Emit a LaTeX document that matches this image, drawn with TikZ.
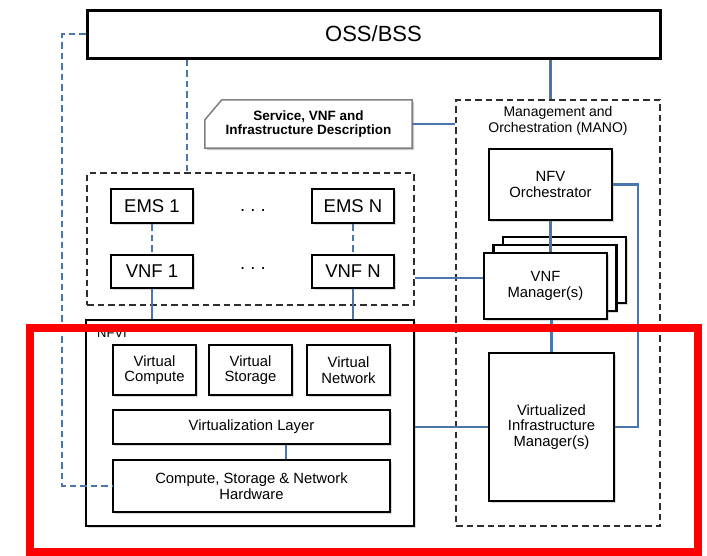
\documentclass[tikz,border=0pt]{standalone}
\usepackage{fontspec}
\setmainfont{Liberation Sans}
\usetikzlibrary{shadows}
\definecolor{linkblue}{HTML}{4A76AC}
\definecolor{framegray}{HTML}{2E2E2E}
\newcommand\dgTitle{\fontsize{22}{24}\selectfont}
\newcommand\dgEms{\fontsize{18.5}{20}\selectfont}
\newcommand\dgBox{\fontsize{14.8}{15.5}\selectfont}
\newcommand\dgSmall{\fontsize{14}{15.5}\selectfont}
\newcommand\dgDesc{\fontsize{13.5}{14.5}\selectfont\bfseries}
\begin{document}
\begin{tikzpicture}[x=1pt,y=-1pt,
  box/.style={draw=black, line width=2.5pt, fill=white, inner sep=0pt, align=center,
    drop shadow={shadow xshift=1.8pt, shadow yshift=-1.8pt, opacity=0.3}},
  grp/.style={draw=framegray, line width=2pt, dash pattern=on 6.5pt off 4pt, inner sep=0pt},
  link/.style={draw=linkblue, line width=2.2pt},
  dlink/.style={link, line width=2.4pt, dash pattern=on 6.5pt off 4pt},
  lbl/.style={inner sep=0pt, align=center}]
\useasboundingbox (0,0) rectangle (707,555);

% top-level operations / business support
\node[box, line width=3pt, minimum width=573, minimum height=48, font=\dgTitle] (oss) at (373.5,34) {OSS/BSS};

% descriptor sheet with a clipped corner
\node[lbl, minimum width=207, minimum height=48] (desc) at (308.5,124) {};
\fill[black, opacity=0.22] ([shift={(2,2)}]desc.south west) -- ([shift={(2,22)}]desc.north west)
  -- ([shift={(19,2)}]desc.north west) -- ([shift={(2,2)}]desc.north east) -- ([shift={(2,2)}]desc.south east) -- cycle;
\draw[draw=black!50, line width=1.5pt, fill=white] (desc.south west) -- ([yshift=-20pt]desc.north west)
  -- ([xshift=17pt]desc.north west) -- (desc.north east) -- (desc.south east) -- cycle;
\node[lbl, font=\dgDesc] (desctext) at (desc.center) {Service, VNF and\\Infrastructure Description};

% management and orchestration domain
\node[grp, minimum width=204, minimum height=426] (mano) at (558,313) {};
\node[lbl, font=\dgSmall] (manolabel) at (558,121) {Management and\\Orchestration (MANO)};
\node[box, minimum width=123, minimum height=71, font=\dgBox] (orch) at (550.5,184.5) {NFV\\Orchestrator};
\node[box, minimum width=123, minimum height=66] (vnfmc) at (564.5,270) {};
\node[box, minimum width=123, minimum height=66] (vnfmb) at (555,278) {};
\node[box, minimum width=123, minimum height=66, font=\dgBox] (vnfm) at (545.5,286) {VNF\\Manager(s)};
\node[box, minimum width=125, minimum height=148, font=\dgBox] (vim) at (551.5,427) {Virtualized\\Infrastructure\\Manager(s)};

% VNF layer
\node[grp, minimum width=327, minimum height=132] (group) at (250.5,239) {};
\node[box, minimum width=82, minimum height=34, font=\dgEms] (ems1) at (152,206) {EMS 1};
\node[box, minimum width=82, minimum height=34, font=\dgEms] (emsN) at (353,206) {EMS N};
\node[box, minimum width=82, minimum height=33, font=\dgEms] (vnf1) at (152,271.5) {VNF 1};
\node[box, minimum width=82, minimum height=33, font=\dgEms] (vnfN) at (353,271.5) {VNF N};
\node[lbl, font=\dgEms] (dotsA) at (253,211) {.\ .\ .};
\node[lbl, font=\dgEms] (dotsB) at (253,269) {.\ .\ .};

% NFV infrastructure
\node[box, line width=2.2pt, minimum width=328, minimum height=206] (nfvi) at (250,423) {};
\node[lbl, anchor=base west, font=\fontsize{13}{14}\selectfont] (nfvilabel) at (97,337) {NFVI};
\node[box, minimum width=83, minimum height=50, font=\dgBox] (vc) at (154.5,370) {Virtual\\Compute};
\node[box, minimum width=83, minimum height=50, font=\dgBox] (vs) at (250.5,370) {Virtual\\Storage};
\node[box, minimum width=83, minimum height=50, font=\dgBox] (vn) at (348.5,370) {Virtual\\Network};
\node[box, minimum width=277, minimum height=34, font=\dgBox] (vl) at (251.5,427) {Virtualization Layer};
\node[box, minimum width=277, minimum height=52, font=\dgBox] (hw) at (251.5,486) {Compute, Storage \& Network\\Hardware};

% routing columns and rows for the connectors
\coordinate (leftbus) at (62,0);
\coordinate (emsbus) at (187,0);
\coordinate (manobus) at (638,0);
\coordinate (vnfmrow) at (0,278);
\coordinate (hwlink) at (286,0);

% connectors
\draw[dlink] (oss.west) -- (oss.west -| leftbus) -- (hw.west -| leftbus) -- (hw.west);
\draw[dlink] (oss.south -| emsbus) -- (group.north -| emsbus);
\draw[link] (oss.south -| orch) -- (mano.north -| orch);
\draw[link] (desc.east) -- (desc.east -| mano.west);
\draw[dlink] (ems1) -- (vnf1);
\draw[dlink] (emsN) -- (vnfN);
\draw[link] (vnf1.south) -- (vnf1.south |- nfvi.north);
\draw[link] (vnfN.south) -- (vnfN.south |- nfvi.north);
\draw[link] (group.east |- vnfmrow) -- (vnfm.west |- vnfmrow);
\draw[link] (orch.south) -- (orch.south |- vnfm.north);
\draw[link] (vim.north) -- (vim.north |- vnfm.south);
\draw[link] (orch.east) -- (orch.east -| manobus) -- (vim.east -| manobus) -- (vim.east);
\draw[link] (vim.west -| nfvi.east) -- (vim.west);
\draw[link] (vl.south -| hwlink) -- (hw.north -| hwlink);

% highlight frame around the infrastructure part
\node[draw=red, line width=8pt, minimum width=668.5, minimum height=224, inner sep=0pt] (highlight) at (363.75,440) {};
\end{tikzpicture}
\end{document}
